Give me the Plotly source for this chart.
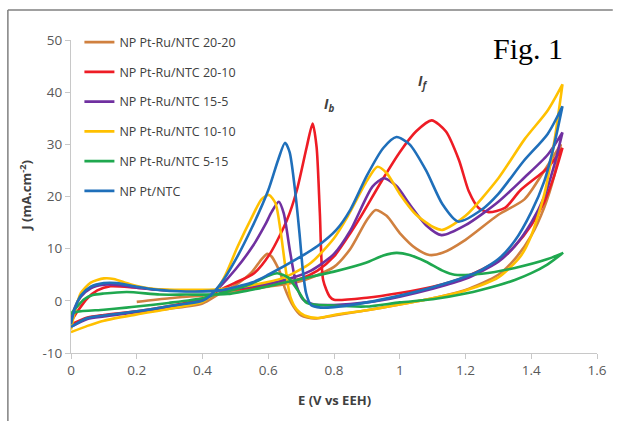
import plotly.graph_objects as go

# ---------------- data ----------------
names = ["NP Pt-Ru/NTC 20-20", "NP Pt-Ru/NTC 20-10", "NP Pt-Ru/NTC 15-5",
         "NP Pt-Ru/NTC 10-10", "NP Pt-Ru/NTC 5-15", "NP Pt/NTC"]
colors = ["#D0803F", "#EE1C25", "#7030A0", "#FFC000", "#1FA84F", "#1F6FBA"]

# 20-20 (orange)
e_2020_f = [0.2, 0.3, 0.4, 0.45, 0.5, 0.6, 0.7, 0.8, 0.85, 0.9, 0.927, 0.96, 1.0, 1.05, 1.09, 1.13, 1.2, 1.3, 1.38, 1.44, 1.49]
j_2020_f = [-0.2, 0.5, 1.0, 1.3, 1.8, 2.7, 3.8, 6.5, 10, 15.5, 17.4, 16.3, 13, 10, 8.8, 9.2, 11.7, 16.5, 19.5, 25, 30]
e_2020_b = [1.49, 1.47, 1.44, 1.4, 1.35, 1.3, 1.2, 1.1, 1.0, 0.9, 0.8, 0.74, 0.7, 0.677, 0.65, 0.637, 0.61, 0.597, 0.58, 0.55, 0.5, 0.45, 0.4, 0.3, 0.2]
j_2020_b = [30, 24, 18, 12.5, 8, 5, 2.1, 0.5, -0.7, -1.8, -2.8, -3.4, -2.8, -1.1, 2.5, 5.3, 8.5, 9, 8, 5.5, 3, 1.3, -0.5, -1.5, -2.3]

# 20-10 (red)
e_2010_f = [0, 0.02, 0.05, 0.08, 0.12, 0.2, 0.3, 0.45, 0.55, 0.65, 0.7, 0.75, 0.8, 0.85, 0.88, 0.95, 1.0, 1.05, 1.097, 1.14, 1.18, 1.21, 1.24, 1.27, 1.32, 1.367, 1.45, 1.495]
j_2010_f = [-4, -2, 0.5, 2.0, 2.8, 2.5, 2.0, 2.0, 2.5, 3.5, 4.3, 5.8, 8.5, 13, 16, 23.5, 28.5, 32.5, 34.6, 32.5, 27, 21, 17.8, 17, 17.8, 21.2, 25.5, 29.3]
e_2010_b = [1.495, 1.47, 1.44, 1.4, 1.35, 1.3, 1.2, 1.1, 1.0, 0.9, 0.8, 0.787, 0.767, 0.757, 0.747, 0.735, 0.717, 0.687, 0.657, 0.607, 0.557, 0.497, 0.45, 0.42, 0.4, 0.3, 0.2, 0.1, 0.05, 0]
j_2010_b = [29.3, 24, 19, 14.5, 10.5, 7.7, 4.6, 2.7, 1.5, 0.6, 0.2, 0.8, 4, 16.8, 29.5, 34, 29.5, 21.2, 15.5, 9.2, 5.3, 3.4, 2.0, 0.8, 0.3, -1, -2, -2.7, -3.2, -4.5]

# 15-5 (purple)
e_155_f = [0, 0.01, 0.03, 0.06, 0.1, 0.15, 0.2, 0.3, 0.45, 0.55, 0.65, 0.73, 0.8, 0.85, 0.917, 0.952, 0.99, 1.03, 1.08, 1.127, 1.2, 1.3, 1.377, 1.45, 1.495]
j_155_f = [-4, -1.5, 0.8, 2.4, 3.1, 3.0, 2.5, 2.0, 2.0, 2.8, 4.0, 5.8, 9, 13.5, 21.9, 23.5, 22, 18.5, 14.5, 12.6, 14.5, 19, 23.5, 28, 32.3]
e_155_b = [1.495, 1.47, 1.44, 1.4, 1.35, 1.3, 1.2, 1.1, 1.0, 0.9, 0.8, 0.74, 0.707, 0.687, 0.667, 0.647, 0.632, 0.61, 0.59, 0.552, 0.5, 0.45, 0.42, 0.4, 0.3, 0.2, 0.1, 0.05, 0]
j_155_b = [32.3, 26, 20, 15, 10.5, 7.5, 4.2, 2.3, 0.8, -0.3, -0.8, -0.7, 0.2, 2.7, 9.2, 16.8, 19, 17, 14.5, 10.4, 6, 2.5, 0.8, 0, -1.2, -2.2, -3, -3.5, -5]

# 10-10 (yellow)
e_1010_f = [0, 0.01, 0.03, 0.06, 0.1, 0.13, 0.18, 0.25, 0.35, 0.45, 0.55, 0.65, 0.73, 0.8, 0.84, 0.9, 0.932, 0.96, 1.0, 1.05, 1.1, 1.13, 1.2, 1.3, 1.38, 1.45, 1.495]
j_1010_f = [-5.5, -2.5, 1.5, 3.5, 4.3, 4.2, 3.2, 2.3, 2.1, 2.2, 3.0, 4.5, 7.3, 12, 16, 23, 25.7, 24.5, 20.5, 16.5, 14.2, 13.6, 16.3, 23.5, 31, 36.5, 41.5]
e_1010_b = [1.495, 1.47, 1.44, 1.4, 1.367, 1.3, 1.2, 1.1, 1.0, 0.9, 0.8, 0.75, 0.71, 0.687, 0.667, 0.652, 0.637, 0.622, 0.602, 0.58, 0.55, 0.507, 0.47, 0.45, 0.42, 0.4, 0.3, 0.2, 0.1, 0.05, 0]
j_1010_b = [41.5, 30.5, 20.5, 12.5, 8.5, 4.5, 2.0, 0.5, -0.7, -1.8, -2.7, -3.3, -2.8, -1.7, 0.8, 6.5, 13.6, 18.7, 20.3, 19.5, 16, 10.4, 5, 2.8, 0.7, -0.2, -1.5, -2.6, -3.8, -4.8, -6]

# 5-15 (green)
e_515_f = [0, 0.02, 0.04, 0.066, 0.1, 0.17, 0.27, 0.35, 0.477, 0.6, 0.7, 0.8, 0.897, 0.95, 0.99, 1.03, 1.08, 1.13, 1.167, 1.25, 1.35, 1.45, 1.497]
j_515_f = [-2.5, -1, 0.3, 1.1, 1.4, 1.7, 1.2, 1.2, 1.3, 2.8, 4.2, 5.6, 7.3, 8.7, 9.2, 8.8, 7.5, 5.8, 5.0, 5.2, 6.3, 8.0, 9.2]
e_515_b = [1.497, 1.45, 1.4, 1.35, 1.3, 1.2, 1.1, 1.0, 0.897, 0.8, 0.717, 0.69, 0.66, 0.627, 0.6, 0.55, 0.5, 0.45, 0.4, 0.297, 0.2, 0.168, 0.1, 0.018, 0]
j_515_b = [9.2, 7.0, 5.3, 4.0, 3.0, 1.4, 0.3, -0.3, -1.1, -0.9, -0.4, 2, 4.5, 5.3, 4.8, 3.3, 2.2, 1.4, 0.5, -0.4, -1.1, -1.3, -1.7, -2.1, -2.5]

# Pt/NTC (blue)
e_pt_f = [0, 0.01, 0.03, 0.06, 0.1, 0.14, 0.2, 0.25, 0.35, 0.45, 0.55, 0.6, 0.7, 0.75, 0.807, 0.85, 0.9, 0.95, 0.99, 1.03, 1.08, 1.13, 1.177, 1.25, 1.3, 1.377, 1.45, 1.495]
j_pt_f = [-4.5, -1.8, 1.0, 2.7, 3.4, 3.4, 2.7, 2.2, 1.8, 2.0, 3.5, 5.0, 8.5, 10.5, 13.6, 17.5, 24, 29.3, 31.4, 30, 25, 18.5, 15.2, 17.5, 20.5, 26.8, 32, 37.3]
e_pt_b = [1.495, 1.47, 1.44, 1.4, 1.35, 1.3, 1.25, 1.2, 1.1, 1.0, 0.9, 0.8, 0.76, 0.73, 0.715, 0.705, 0.695, 0.68, 0.665, 0.651, 0.63, 0.6, 0.55, 0.5, 0.457, 0.42, 0.4, 0.3, 0.2, 0.1, 0.05, 0]
j_pt_b = [37.3, 30, 23, 17, 11.5, 8, 6, 4.6, 2.6, 1.0, -0.3, -1.2, -1.3, -0.8, 1.5, 6, 13, 22, 28.5, 30.3, 27, 21.2, 14, 7.8, 3.4, 0.8, 0, -1, -2, -2.8, -3.3, -5]

x_ticks = [0, 0.2, 0.4, 0.6, 0.8, 1.0, 1.2, 1.4, 1.6]
x_tick_labels = ["0", "0.2", "0.4", "0.6", "0.8", "1", "1.2", "1.4", "1.6"]
y_ticks = [-10, 0, 10, 20, 30, 40, 50]
y_tick_labels = ["-10", "0", "10", "20", "30", "40", "50"]

series_e = [e_2020_f + e_2020_b, e_2010_f + e_2010_b, e_155_f + e_155_b,
            e_1010_f + e_1010_b, e_515_f + e_515_b, e_pt_f + e_pt_b]
series_j = [j_2020_f + j_2020_b, j_2010_f + j_2010_b, j_155_f + j_155_b,
            j_1010_f + j_1010_b, j_515_f + j_515_b, j_pt_f + j_pt_b]

# ---------------- figure ----------------
fig = go.Figure()
for i, (nm, col, ex, jy) in enumerate(zip(names, colors, series_e, series_j)):
    fig.add_trace(go.Scatter(
        x=ex, y=jy, mode="lines", name=nm, legendgroup=f"g{i}",
        line=dict(color=col, width=2.6, shape="spline", smoothing=0.7),
    ))

axis_col = "#C8C8C8"
tick_font = dict(family="Open Sans, sans-serif", size=13.5, color="#595959")

fig.update_layout(
    width=619, height=421,
    margin=dict(l=71, r=15, t=40, b=68),
    paper_bgcolor="white", plot_bgcolor="white",
    showlegend=True,
    legend=dict(
        x=0.016, y=1.04, xanchor="left", yanchor="top",
        bgcolor="rgba(0,0,0,0)", tracegroupgap=10.5,
        font=dict(family="Open Sans, sans-serif", size=12.5, color="#404040"),
        itemwidth=30,
    ),
    xaxis=dict(
        range=[0, 1.6], tickvals=x_ticks, ticktext=x_tick_labels,
        showgrid=False, zeroline=False, showline=True, linecolor=axis_col,
        linewidth=1, ticks="outside", ticklen=5, tickcolor=axis_col,
        tickfont=tick_font,
    ),
    yaxis=dict(
        range=[-10, 50], tickvals=y_ticks, ticktext=y_tick_labels,
        showgrid=False, zeroline=False, showline=True, linecolor=axis_col,
        linewidth=1, ticks="outside", ticklen=5, tickcolor=axis_col,
        tickfont=tick_font,
    ),
    annotations=[
        dict(text="E (V vs EEH)", xref="paper", yref="paper", x=0.501, y=-0.15,
             xanchor="center", yanchor="middle", showarrow=False,
             font=dict(family="Open Sans, sans-serif", size=13, color="#404040", weight="bold")),
        dict(text="J (mA.cm<sup>-2</sup>)", xref="paper", yref="paper", x=-0.086, y=0.505,
             xanchor="center", yanchor="middle", textangle=-90, showarrow=False,
             font=dict(family="Open Sans, sans-serif", size=13, color="#404040", weight="bold")),
        dict(text="Fig. 1", xref="x", yref="y", x=1.39, y=48.4,
             xanchor="center", yanchor="middle", showarrow=False,
             font=dict(family="Liberation Serif, serif", size=30, color="black")),
        dict(text="<b><i>I</i></b><sub><b><i>b</i></b></sub>", xref="x", yref="y", x=0.785, y=37.6,
             xanchor="center", yanchor="middle", showarrow=False,
             font=dict(family="Open Sans, sans-serif", size=14, color="#404040")),
        dict(text="<b><i>I</i></b><sub><b><i>f</i></b></sub>", xref="x", yref="y", x=1.068, y=42.0,
             xanchor="center", yanchor="middle", showarrow=False,
             font=dict(family="Open Sans, sans-serif", size=14, color="#404040")),
    ],
    shapes=[
        dict(type="line", xref="paper", yref="paper", x0=-0.12, x1=-0.12, y0=1.096, y1=-0.22,
             line=dict(color="#808080", width=1.5)),
        dict(type="line", xref="paper", yref="paper", x0=-0.12, x1=1.03, y0=1.096, y1=1.096,
             line=dict(color="#808080", width=1.5)),
    ],
)

fig.write_html(
    "out.html",
    config={"displayModeBar": False},
    post_script="document.body.style.margin='0px';document.body.style.overflow='hidden';",
)
